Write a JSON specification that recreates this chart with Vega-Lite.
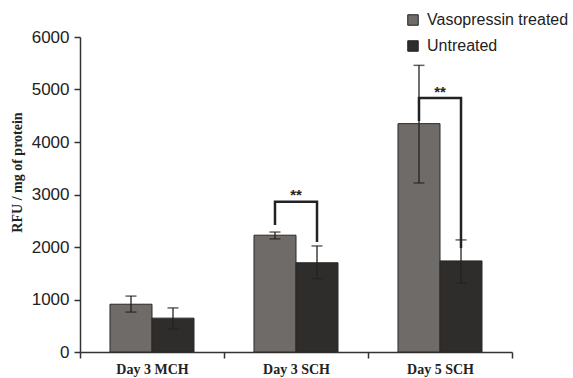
{
  "$schema": "https://vega.github.io/schema/vega-lite/v6.json",
  "width": 432,
  "height": 315,
  "autosize": {"type": "none"},
  "padding": {"left": 80, "top": 37, "right": 61, "bottom": 26},
  "background": "white",
  "config": {
    "view": {"stroke": null},
    "axis": {"domainColor": "#333", "tickColor": "#333", "grid": false}
  },
  "datasets": {
    "bars": [
      {"cat": "Day 3 MCH", "group": "Vasopressin treated", "value": 910, "lo": 760, "hi": 1065},
      {"cat": "Day 3 MCH", "group": "Untreated", "value": 645, "lo": 440, "hi": 840},
      {"cat": "Day 3 SCH", "group": "Vasopressin treated", "value": 2225, "lo": 2155, "hi": 2285},
      {"cat": "Day 3 SCH", "group": "Untreated", "value": 1700, "lo": 1395, "hi": 2020},
      {"cat": "Day 5 SCH", "group": "Vasopressin treated", "value": 4350, "lo": 3220, "hi": 5460},
      {"cat": "Day 5 SCH", "group": "Untreated", "value": 1735, "lo": 1315, "hi": 2135}
    ],
    "brackets": [
      {"cat": "Day 3 SCH", "group": "Vasopressin treated", "y": 2420, "ord": 1},
      {"cat": "Day 3 SCH", "group": "Vasopressin treated", "y": 2860, "ord": 2},
      {"cat": "Day 3 SCH", "group": "Untreated", "y": 2860, "ord": 3},
      {"cat": "Day 3 SCH", "group": "Untreated", "y": 2095, "ord": 4},
      {"cat": "Day 5 SCH", "group": "Vasopressin treated", "y": 4400, "ord": 1},
      {"cat": "Day 5 SCH", "group": "Vasopressin treated", "y": 4840, "ord": 2},
      {"cat": "Day 5 SCH", "group": "Untreated", "y": 4840, "ord": 3},
      {"cat": "Day 5 SCH", "group": "Untreated", "y": 1980, "ord": 4}
    ],
    "stars": [
      {"cat": "Day 3 SCH", "y": 2990, "label": "**"},
      {"cat": "Day 5 SCH", "y": 4960, "label": "**"}
    ]
  },
  "encoding": {
    "x": {
      "field": "cat", "type": "nominal",
      "sort": ["Day 3 MCH", "Day 3 SCH", "Day 5 SCH"],
      "scale": {"paddingInner": 0, "paddingOuter": 0},
      "axis": {
        "title": null, "labelAngle": 0, "tickBand": "extent",
        "labelFont": "Liberation Serif", "labelFontWeight": "bold", "labelFontSize": 14,
        "labelColor": "#222", "labelPadding": 4, "tickSize": 6, "domainWidth": 1.5, "tickWidth": 1.5
      }
    },
    "xOffset": {
      "field": "group", "type": "nominal",
      "sort": ["Vasopressin treated", "Untreated"],
      "scale": {"paddingInner": 0, "paddingOuter": 0.714}
    }
  },
  "layer": [
    {
      "data": {"name": "bars"},
      "mark": {"type": "bar", "stroke": "#2a2826", "strokeWidth": 1},
      "encoding": {
        "y": {
          "field": "value", "type": "quantitative",
          "scale": {"domain": [0, 6000], "nice": false},
          "axis": {
            "title": "RFU / mg of protein", "values": [0, 1000, 2000, 3000, 4000, 5000, 6000],
            "format": "d",
            "titleFont": "Liberation Serif", "titleFontWeight": "bold", "titleFontSize": 14,
            "titleColor": "#222", "titleX": -63, "titleY": 135, "titleAngle": 270,
            "titleAlign": "center", "titleBaseline": "middle",
            "labelFont": "Liberation Sans", "labelFontSize": 17, "labelColor": "#222",
            "labelPadding": 5, "tickSize": 6, "domainWidth": 1.5, "tickWidth": 1.5
          }
        },
        "color": {
          "field": "group", "type": "nominal",
          "sort": ["Vasopressin treated", "Untreated"],
          "scale": {"domain": ["Vasopressin treated", "Untreated"], "range": ["#6f6b68", "#2f2d2b"]},
          "legend": {
            "title": null, "orient": "none", "legendX": 325, "legendY": -25,
            "padding": 0, "symbolType": "square", "symbolSize": 110,
            "symbolStrokeColor": "#222", "symbolStrokeWidth": 1,
            "labelFont": "Liberation Sans", "labelFontSize": 16, "labelColor": "#222",
            "rowPadding": 10, "labelOffset": 6
          }
        }
      }
    },
    {
      "data": {"name": "bars"},
      "mark": {"type": "rule", "color": "#222", "strokeWidth": 1.3},
      "encoding": {
        "y": {"field": "lo", "type": "quantitative"},
        "y2": {"field": "hi"}
      }
    },
    {
      "data": {"name": "bars"},
      "mark": {"type": "tick", "color": "#222", "size": 11, "thickness": 1.5, "orient": "horizontal"},
      "encoding": {"y": {"field": "lo", "type": "quantitative"}}
    },
    {
      "data": {"name": "bars"},
      "mark": {"type": "tick", "color": "#222", "size": 11, "thickness": 1.5, "orient": "horizontal"},
      "encoding": {"y": {"field": "hi", "type": "quantitative"}}
    },
    {
      "data": {"name": "brackets"},
      "mark": {"type": "line", "color": "#222", "strokeWidth": 2.5, "interpolate": "linear"},
      "encoding": {
        "y": {"field": "y", "type": "quantitative"},
        "detail": {"field": "cat"},
        "order": {"field": "ord", "type": "quantitative"}
      }
    },
    {
      "data": {"name": "stars"},
      "mark": {"type": "text", "font": "Liberation Sans", "fontSize": 15, "fontWeight": "bold", "color": "#222", "baseline": "middle", "dx": 72},
      "encoding": {
        "xOffset": {"value": 0},
        "y": {"field": "y", "type": "quantitative"},
        "text": {"field": "label"}
      }
    }
  ]
}
